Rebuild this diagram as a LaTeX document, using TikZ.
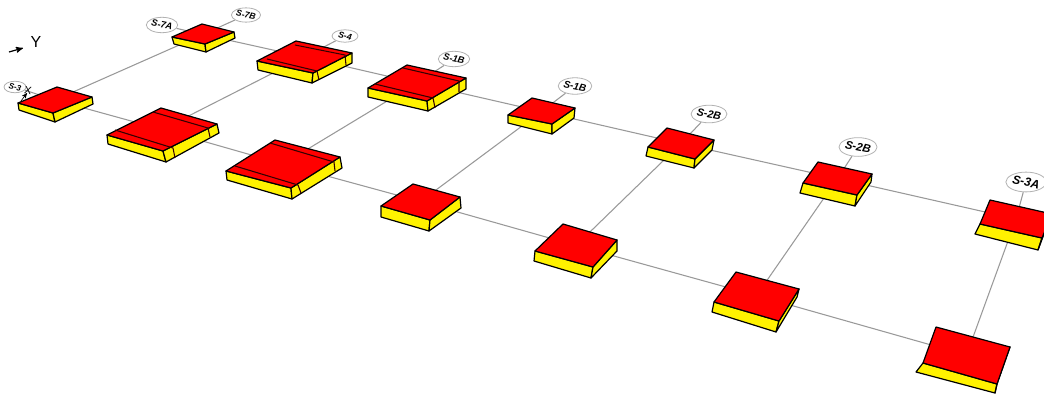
\documentclass[tikz,border=0pt]{standalone}
\usepackage{fontspec}
\setmainfont{Liberation Sans}
\usetikzlibrary{arrows}
\usetikzlibrary{backgrounds}
\usetikzlibrary{calc}
\usetikzlibrary{shapes.geometric}

\newcommand{\plate}[8]{
  \draw [sideface] (#2) -- (#5) -- (#7) -- (#6) -- cycle;
  \draw [sideface] (#5) -- (#4) -- (#8) -- (#7) -- cycle;
  \draw [topface] (#2) -- (#3) -- (#4) -- (#5) -- cycle;
  \coordinate (#1) at ($(#2)!0.5!(#4)$);
}
\newcommand{\stripes}[6]{
  \draw [stripe] (#1) -- (#2) -- (#3) (#4) -- (#5) -- (#6);
}
\newcommand{\seclabel}[6]{
  \node [seclabel, minimum width=#3*0.75pt, minimum height=#4*0.75pt,
         font=\fontsize{#5}{#5}\selectfont\itshape\bfseries] (#1) at (#2)
        {\rotatebox{-12}{#6}};
}

\begin{document}
\begin{tikzpicture}[
      x=0.75pt, y=-0.75pt,
      sideface/.style={draw=black, fill=yellow, line width=0.9pt, line join=round},
      topface/.style={draw=black, fill=red, line width=0.9pt, line join=round},
      stripe/.style={draw=black!80!red, line width=0.8pt},
      seclabel/.style={ellipse, draw=black!30, fill=white, inner sep=0pt, line width=0.6pt},
      beam/.style={draw=black!40, line width=0.8pt},
      axisarrow/.style={->, >=stealth', black, line width=0.9pt},
      axislabel/.style={inner sep=0pt, font=\fontsize{12}{12}\selectfont}
    ]
      \path [use as bounding box, clip] (0,0) rectangle (1044,393);

      \plate{back1}{172,37}{202,24}{234,32}{205,44}{174,44}{206,52}{235,38}
      \plate{back2}{257,61}{296,41}{352,53}{313,73}{258,70}{312,83}{352,63}
      \stripes{267,59}{317,71}{319,80}{295,45}{345,55}{346,65}
      \plate{back3}{368,88}{407,65}{466,78}{427,101}{368,97}{428,111}{466,89}
      \stripes{375,84}{433,98}{435,108}{403,68}{459,81}{459,92}
      \plate{back4}{508,115}{532,98}{575,108}{552,124}{508,123}{552,134}{574,118}
      \plate{back5}{648,147}{667,128}{714,140}{695,159}{646,156}{694,168}{712,150}
      \plate{back6}{803,183}{818,162}{872,174}{857,195}{800,193}{855,206}{871,182}
      \plate{back7}{980,224}{990,200}{1052,214}{1042,238}{975,234}{1038,250}{1047,226}

      \plate{front1}{18,103}{57,87}{92,97}{53,113}{19,110}{55,122}{93,104}
      \plate{front2}{107,135}{161,108}{217,124}{163,151}{108,144}{166,162}{219,133}
      \stripes{115,130}{173,148}{175,158}{153,112}{208,128}{210,137}
      \plate{front3}{226,171}{275,140}{340,157}{291,188}{227,180}{292,199}{342,168}
      \stripes{235,166}{298,185}{301,193}{270,143}{334,162}{335,171}
      \plate{front4}{381,206}{413,184}{460,197}{430,220}{381,217}{429,231}{461,208}
      \plate{front5}{535,251}{563,224}{617,240}{593,267}{534,261}{591,278}{617,251}
      \plate{front6}{714,302}{736,272}{799,289}{779,321}{712,312}{776,332}{797,297}
      \plate{front7}{923,363}{936,327}{1010,347}{997,384}{916,372}{995,393}{1003,356}

      \seclabel{sec1}{162,25}{27}{10}{7}{S-7A}
      \seclabel{sec2}{246,15}{24}{9}{6.5}{S-7B}
      \seclabel{sec3}{345,36}{26}{9}{6.5}{S-4}
      \seclabel{sec4}{454,59}{28}{11}{7}{S-1B}
      \seclabel{sec5}{575,86}{30}{12}{7.5}{S-1B}
      \seclabel{sec6}{709,114}{32}{14}{8}{S-2B}
      \seclabel{sec7}{858,147}{34}{15}{8.5}{S-2B}
      \seclabel{sec8}{1026,182}{36}{16}{9}{S-3A}
      \seclabel{sec0}{15,87}{22}{11}{6}{S-3}

      \node [axislabel] (ylabel) at (36,42) {Y};
      \node [axislabel, rotate=-10, font=\fontsize{8}{8}\selectfont] (xlabel) at (28,91) {X};
      \coordinate (ystart) at (9,52);
      \coordinate (yend) at (23,48);
      \coordinate (xstart) at (21,101);
      \coordinate (xend) at (27,93);
      \draw [axisarrow] (ystart) -- (yend);
      \draw [axisarrow, line width=0.5pt] (xstart) -- (xend);

      \begin{pgfonlayer}{background}
        \path [beam] (back1) edge (back2)
              (back2) edge (back3)
              (back3) edge (back4)
              (back4) edge (back5)
              (back5) edge (back6)
              (back6) edge (back7)
              (front1) edge (front2)
              (front2) edge (front3)
              (front3) edge (front4)
              (front4) edge (front5)
              (front5) edge (front6)
              (front6) edge (front7)
              (front1) edge (back1)
              (front2) edge (back2)
              (front3) edge (back3)
              (front4) edge (back4)
              (front5) edge (back5)
              (front6) edge (back6)
              (front7) edge (back7)
              (back1) edge (sec1)
              (back1) edge (sec2)
              (back2) edge (sec3)
              (back3) edge (sec4)
              (back4) edge (sec5)
              (back5) edge (sec6)
              (back6) edge (sec7)
              (back7) edge (sec8)
              (front1) edge (sec0);
      \end{pgfonlayer}
    \end{tikzpicture}
\end{document}
